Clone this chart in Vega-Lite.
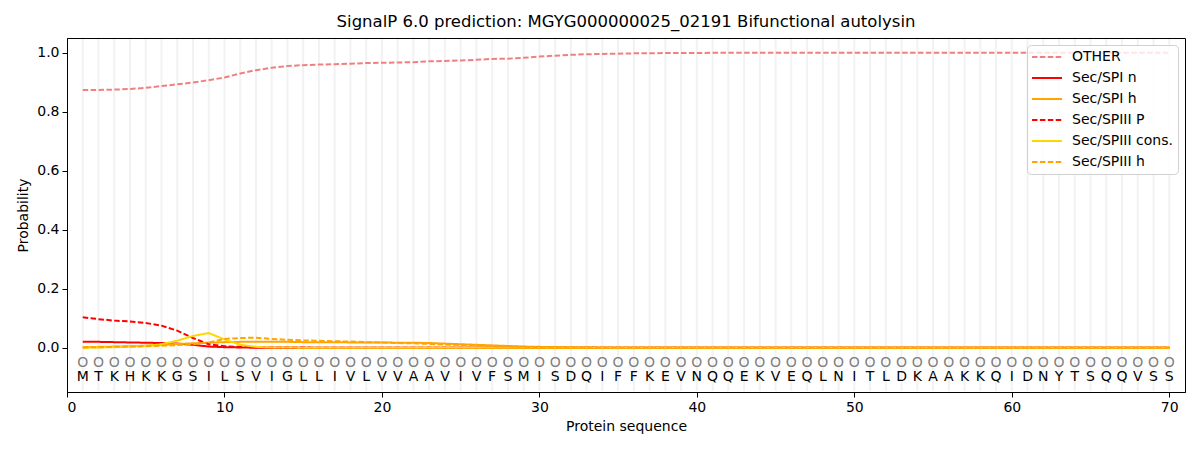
{
  "$schema": "https://vega.github.io/schema/vega-lite/v6.json",
  "autosize": {"type": "none"},
  "width": 1118,
  "height": 354,
  "padding": {"left": 67, "top": 38, "right": 15, "bottom": 58},
  "title": {"text": "SignalP 6.0 prediction: MGYG000000025_02191 Bifunctional autolysin", "fontSize": 16.5, "fontWeight": "normal", "font": "DejaVu Sans", "offset": 7, "color": "#000"},
  "data": {
    "values": [
      {"pos": 1, "aa": "M", "lab": "O", "other": 0.874, "spi_n": 0.020, "spi_h": 0.002, "spiii_p": 0.103, "spiii_cons": 0.000, "spiii_h": 0.001},
      {"pos": 2, "aa": "T", "lab": "O", "other": 0.874, "spi_n": 0.020, "spi_h": 0.003, "spiii_p": 0.097, "spiii_cons": 0.001, "spiii_h": 0.002},
      {"pos": 3, "aa": "K", "lab": "O", "other": 0.875, "spi_n": 0.019, "spi_h": 0.004, "spiii_p": 0.092, "spiii_cons": 0.002, "spiii_h": 0.003},
      {"pos": 4, "aa": "H", "lab": "O", "other": 0.877, "spi_n": 0.018, "spi_h": 0.005, "spiii_p": 0.089, "spiii_cons": 0.004, "spiii_h": 0.004},
      {"pos": 5, "aa": "K", "lab": "O", "other": 0.881, "spi_n": 0.017, "spi_h": 0.007, "spiii_p": 0.084, "spiii_cons": 0.006, "spiii_h": 0.005},
      {"pos": 6, "aa": "K", "lab": "O", "other": 0.887, "spi_n": 0.016, "spi_h": 0.010, "spiii_p": 0.075, "spiii_cons": 0.012, "spiii_h": 0.007},
      {"pos": 7, "aa": "G", "lab": "O", "other": 0.893, "spi_n": 0.014, "spi_h": 0.013, "spiii_p": 0.058, "spiii_cons": 0.024, "spiii_h": 0.009},
      {"pos": 8, "aa": "S", "lab": "O", "other": 0.899, "spi_n": 0.010, "spi_h": 0.015, "spiii_p": 0.033, "spiii_cons": 0.040, "spiii_h": 0.012},
      {"pos": 9, "aa": "I", "lab": "O", "other": 0.907, "spi_n": 0.004, "spi_h": 0.017, "spiii_p": 0.012, "spiii_cons": 0.050, "spiii_h": 0.018},
      {"pos": 10, "aa": "L", "lab": "O", "other": 0.916, "spi_n": 0.002, "spi_h": 0.019, "spiii_p": 0.005, "spiii_cons": 0.028, "spiii_h": 0.030},
      {"pos": 11, "aa": "S", "lab": "O", "other": 0.930, "spi_n": 0.001, "spi_h": 0.020, "spiii_p": 0.003, "spiii_cons": 0.010, "spiii_h": 0.033},
      {"pos": 12, "aa": "V", "lab": "O", "other": 0.941, "spi_n": 0.000, "spi_h": 0.020, "spiii_p": 0.002, "spiii_cons": 0.003, "spiii_h": 0.034},
      {"pos": 13, "aa": "I", "lab": "O", "other": 0.949, "spi_n": 0.000, "spi_h": 0.020, "spiii_p": 0.001, "spiii_cons": 0.001, "spiii_h": 0.030},
      {"pos": 14, "aa": "G", "lab": "O", "other": 0.955, "spi_n": 0.000, "spi_h": 0.020, "spiii_p": 0.001, "spiii_cons": 0.001, "spiii_h": 0.027},
      {"pos": 15, "aa": "L", "lab": "O", "other": 0.958, "spi_n": 0.000, "spi_h": 0.019, "spiii_p": 0.001, "spiii_cons": 0.000, "spiii_h": 0.025},
      {"pos": 16, "aa": "L", "lab": "O", "other": 0.960, "spi_n": 0.000, "spi_h": 0.019, "spiii_p": 0.000, "spiii_cons": 0.000, "spiii_h": 0.024},
      {"pos": 17, "aa": "I", "lab": "O", "other": 0.961, "spi_n": 0.000, "spi_h": 0.019, "spiii_p": 0.000, "spiii_cons": 0.000, "spiii_h": 0.022},
      {"pos": 18, "aa": "V", "lab": "O", "other": 0.963, "spi_n": 0.000, "spi_h": 0.018, "spiii_p": 0.000, "spiii_cons": 0.000, "spiii_h": 0.021},
      {"pos": 19, "aa": "L", "lab": "O", "other": 0.965, "spi_n": 0.000, "spi_h": 0.018, "spiii_p": 0.000, "spiii_cons": 0.000, "spiii_h": 0.019},
      {"pos": 20, "aa": "V", "lab": "O", "other": 0.966, "spi_n": 0.000, "spi_h": 0.018, "spiii_p": 0.000, "spiii_cons": 0.000, "spiii_h": 0.018},
      {"pos": 21, "aa": "V", "lab": "O", "other": 0.967, "spi_n": 0.000, "spi_h": 0.017, "spiii_p": 0.000, "spiii_cons": 0.000, "spiii_h": 0.016},
      {"pos": 22, "aa": "A", "lab": "O", "other": 0.968, "spi_n": 0.000, "spi_h": 0.017, "spiii_p": 0.000, "spiii_cons": 0.000, "spiii_h": 0.015},
      {"pos": 23, "aa": "A", "lab": "O", "other": 0.971, "spi_n": 0.000, "spi_h": 0.016, "spiii_p": 0.000, "spiii_cons": 0.000, "spiii_h": 0.013},
      {"pos": 24, "aa": "V", "lab": "O", "other": 0.972, "spi_n": 0.000, "spi_h": 0.014, "spiii_p": 0.000, "spiii_cons": 0.000, "spiii_h": 0.011},
      {"pos": 25, "aa": "I", "lab": "O", "other": 0.974, "spi_n": 0.000, "spi_h": 0.012, "spiii_p": 0.000, "spiii_cons": 0.000, "spiii_h": 0.009},
      {"pos": 26, "aa": "V", "lab": "O", "other": 0.976, "spi_n": 0.000, "spi_h": 0.010, "spiii_p": 0.000, "spiii_cons": 0.000, "spiii_h": 0.007},
      {"pos": 27, "aa": "F", "lab": "O", "other": 0.979, "spi_n": 0.000, "spi_h": 0.008, "spiii_p": 0.000, "spiii_cons": 0.000, "spiii_h": 0.005},
      {"pos": 28, "aa": "S", "lab": "O", "other": 0.980, "spi_n": 0.000, "spi_h": 0.006, "spiii_p": 0.000, "spiii_cons": 0.000, "spiii_h": 0.004},
      {"pos": 29, "aa": "M", "lab": "O", "other": 0.983, "spi_n": 0.000, "spi_h": 0.004, "spiii_p": 0.000, "spiii_cons": 0.000, "spiii_h": 0.003},
      {"pos": 30, "aa": "I", "lab": "O", "other": 0.987, "spi_n": 0.000, "spi_h": 0.003, "spiii_p": 0.000, "spiii_cons": 0.000, "spiii_h": 0.002},
      {"pos": 31, "aa": "S", "lab": "O", "other": 0.990, "spi_n": 0.000, "spi_h": 0.002, "spiii_p": 0.000, "spiii_cons": 0.000, "spiii_h": 0.001},
      {"pos": 32, "aa": "D", "lab": "O", "other": 0.993, "spi_n": 0.000, "spi_h": 0.001, "spiii_p": 0.000, "spiii_cons": 0.000, "spiii_h": 0.001},
      {"pos": 33, "aa": "Q", "lab": "O", "other": 0.995, "spi_n": 0.000, "spi_h": 0.001, "spiii_p": 0.000, "spiii_cons": 0.000, "spiii_h": 0.000},
      {"pos": 34, "aa": "I", "lab": "O", "other": 0.996, "spi_n": 0.000, "spi_h": 0.000, "spiii_p": 0.000, "spiii_cons": 0.000, "spiii_h": 0.000},
      {"pos": 35, "aa": "F", "lab": "O", "other": 0.997, "spi_n": 0.000, "spi_h": 0.000, "spiii_p": 0.000, "spiii_cons": 0.000, "spiii_h": 0.000},
      {"pos": 36, "aa": "F", "lab": "O", "other": 0.998, "spi_n": 0.000, "spi_h": 0.000, "spiii_p": 0.000, "spiii_cons": 0.000, "spiii_h": 0.000},
      {"pos": 37, "aa": "K", "lab": "O", "other": 0.998, "spi_n": 0.000, "spi_h": 0.000, "spiii_p": 0.000, "spiii_cons": 0.000, "spiii_h": 0.000},
      {"pos": 38, "aa": "E", "lab": "O", "other": 0.999, "spi_n": 0.000, "spi_h": 0.000, "spiii_p": 0.000, "spiii_cons": 0.000, "spiii_h": 0.000},
      {"pos": 39, "aa": "V", "lab": "O", "other": 0.999, "spi_n": 0.000, "spi_h": 0.000, "spiii_p": 0.000, "spiii_cons": 0.000, "spiii_h": 0.000},
      {"pos": 40, "aa": "N", "lab": "O", "other": 0.999, "spi_n": 0.000, "spi_h": 0.000, "spiii_p": 0.000, "spiii_cons": 0.000, "spiii_h": 0.000},
      {"pos": 41, "aa": "Q", "lab": "O", "other": 1.0, "spi_n": 0.000, "spi_h": 0.000, "spiii_p": 0.000, "spiii_cons": 0.000, "spiii_h": 0.000},
      {"pos": 42, "aa": "Q", "lab": "O", "other": 1.0, "spi_n": 0.000, "spi_h": 0.000, "spiii_p": 0.000, "spiii_cons": 0.000, "spiii_h": 0.000},
      {"pos": 43, "aa": "E", "lab": "O", "other": 1.0, "spi_n": 0.000, "spi_h": 0.000, "spiii_p": 0.000, "spiii_cons": 0.000, "spiii_h": 0.000},
      {"pos": 44, "aa": "K", "lab": "O", "other": 1.0, "spi_n": 0.000, "spi_h": 0.000, "spiii_p": 0.000, "spiii_cons": 0.000, "spiii_h": 0.000},
      {"pos": 45, "aa": "V", "lab": "O", "other": 1.0, "spi_n": 0.000, "spi_h": 0.000, "spiii_p": 0.000, "spiii_cons": 0.000, "spiii_h": 0.000},
      {"pos": 46, "aa": "E", "lab": "O", "other": 1.0, "spi_n": 0.000, "spi_h": 0.000, "spiii_p": 0.000, "spiii_cons": 0.000, "spiii_h": 0.000},
      {"pos": 47, "aa": "Q", "lab": "O", "other": 1.0, "spi_n": 0.000, "spi_h": 0.000, "spiii_p": 0.000, "spiii_cons": 0.000, "spiii_h": 0.000},
      {"pos": 48, "aa": "L", "lab": "O", "other": 1.0, "spi_n": 0.000, "spi_h": 0.000, "spiii_p": 0.000, "spiii_cons": 0.000, "spiii_h": 0.000},
      {"pos": 49, "aa": "N", "lab": "O", "other": 1.0, "spi_n": 0.000, "spi_h": 0.000, "spiii_p": 0.000, "spiii_cons": 0.000, "spiii_h": 0.000},
      {"pos": 50, "aa": "I", "lab": "O", "other": 1.0, "spi_n": 0.000, "spi_h": 0.000, "spiii_p": 0.000, "spiii_cons": 0.000, "spiii_h": 0.000},
      {"pos": 51, "aa": "T", "lab": "O", "other": 1.0, "spi_n": 0.000, "spi_h": 0.000, "spiii_p": 0.000, "spiii_cons": 0.000, "spiii_h": 0.000},
      {"pos": 52, "aa": "L", "lab": "O", "other": 1.0, "spi_n": 0.000, "spi_h": 0.000, "spiii_p": 0.000, "spiii_cons": 0.000, "spiii_h": 0.000},
      {"pos": 53, "aa": "D", "lab": "O", "other": 1.0, "spi_n": 0.000, "spi_h": 0.000, "spiii_p": 0.000, "spiii_cons": 0.000, "spiii_h": 0.000},
      {"pos": 54, "aa": "K", "lab": "O", "other": 1.0, "spi_n": 0.000, "spi_h": 0.000, "spiii_p": 0.000, "spiii_cons": 0.000, "spiii_h": 0.000},
      {"pos": 55, "aa": "A", "lab": "O", "other": 1.0, "spi_n": 0.000, "spi_h": 0.000, "spiii_p": 0.000, "spiii_cons": 0.000, "spiii_h": 0.000},
      {"pos": 56, "aa": "A", "lab": "O", "other": 1.0, "spi_n": 0.000, "spi_h": 0.000, "spiii_p": 0.000, "spiii_cons": 0.000, "spiii_h": 0.000},
      {"pos": 57, "aa": "K", "lab": "O", "other": 1.0, "spi_n": 0.000, "spi_h": 0.000, "spiii_p": 0.000, "spiii_cons": 0.000, "spiii_h": 0.000},
      {"pos": 58, "aa": "K", "lab": "O", "other": 1.0, "spi_n": 0.000, "spi_h": 0.000, "spiii_p": 0.000, "spiii_cons": 0.000, "spiii_h": 0.000},
      {"pos": 59, "aa": "Q", "lab": "O", "other": 1.0, "spi_n": 0.000, "spi_h": 0.000, "spiii_p": 0.000, "spiii_cons": 0.000, "spiii_h": 0.000},
      {"pos": 60, "aa": "I", "lab": "O", "other": 1.0, "spi_n": 0.000, "spi_h": 0.000, "spiii_p": 0.000, "spiii_cons": 0.000, "spiii_h": 0.000},
      {"pos": 61, "aa": "D", "lab": "O", "other": 1.0, "spi_n": 0.000, "spi_h": 0.000, "spiii_p": 0.000, "spiii_cons": 0.000, "spiii_h": 0.000},
      {"pos": 62, "aa": "N", "lab": "O", "other": 1.0, "spi_n": 0.000, "spi_h": 0.000, "spiii_p": 0.000, "spiii_cons": 0.000, "spiii_h": 0.000},
      {"pos": 63, "aa": "Y", "lab": "O", "other": 1.0, "spi_n": 0.000, "spi_h": 0.000, "spiii_p": 0.000, "spiii_cons": 0.000, "spiii_h": 0.000},
      {"pos": 64, "aa": "T", "lab": "O", "other": 1.0, "spi_n": 0.000, "spi_h": 0.000, "spiii_p": 0.000, "spiii_cons": 0.000, "spiii_h": 0.000},
      {"pos": 65, "aa": "S", "lab": "O", "other": 1.0, "spi_n": 0.000, "spi_h": 0.000, "spiii_p": 0.000, "spiii_cons": 0.000, "spiii_h": 0.000},
      {"pos": 66, "aa": "Q", "lab": "O", "other": 1.0, "spi_n": 0.000, "spi_h": 0.000, "spiii_p": 0.000, "spiii_cons": 0.000, "spiii_h": 0.000},
      {"pos": 67, "aa": "Q", "lab": "O", "other": 1.0, "spi_n": 0.000, "spi_h": 0.000, "spiii_p": 0.000, "spiii_cons": 0.000, "spiii_h": 0.000},
      {"pos": 68, "aa": "V", "lab": "O", "other": 1.0, "spi_n": 0.000, "spi_h": 0.000, "spiii_p": 0.000, "spiii_cons": 0.000, "spiii_h": 0.000},
      {"pos": 69, "aa": "S", "lab": "O", "other": 1.0, "spi_n": 0.000, "spi_h": 0.000, "spiii_p": 0.000, "spiii_cons": 0.000, "spiii_h": 0.000},
      {"pos": 70, "aa": "S", "lab": "O", "other": 1.0, "spi_n": 0.000, "spi_h": 0.000, "spiii_p": 0.000, "spiii_cons": 0.000, "spiii_h": 0.000}
    ]
  },
  "encoding": {
    "x": {
      "field": "pos", "type": "quantitative",
      "scale": {"domain": [0, 71], "nice": false, "zero": false},
      "axis": {"title": "Protein sequence", "values": [0, 10, 20, 30, 40, 50, 60, 70], "grid": false}
    }
  },
  "layer": [
    {
      "mark": {"type": "rule", "color": "#f2f2f2", "strokeWidth": 2},
      "encoding": {
        "y": {"datum": -0.147, "type": "quantitative"},
        "y2": {"datum": 1.047}
      }
    },
    {
      "transform": [
        {"fold": ["other", "spi_n", "spi_h", "spiii_p", "spiii_cons", "spiii_h"], "as": ["key", "prob"]}
      ],
      "mark": {"type": "line", "strokeWidth": 2, "clip": true},
      "encoding": {
        "y": {
          "field": "prob", "type": "quantitative",
          "scale": {"domain": [-0.15, 1.05], "nice": false, "zero": false},
          "axis": {"title": "Probability", "values": [0, 0.2, 0.4, 0.6, 0.8, 1.0], "format": ".1f", "grid": false}
        },
        "color": {
          "field": "key", "type": "nominal",
          "scale": {
            "domain": ["other", "spi_n", "spi_h", "spiii_p", "spiii_cons", "spiii_h"],
            "range": ["#f08080", "#ff0000", "#ffa500", "#ff0000", "#ffd700", "#ffa500"]
          },
          "legend": {
            "title": null,
            "labelExpr": "datum.label == 'other' ? 'OTHER' : datum.label == 'spi_n' ? 'Sec/SPI n' : datum.label == 'spi_h' ? 'Sec/SPI h' : datum.label == 'spiii_p' ? 'Sec/SPIII P' : datum.label == 'spiii_cons' ? 'Sec/SPIII cons.' : 'Sec/SPIII h'"
          }
        },
        "strokeDash": {
          "field": "key", "type": "nominal",
          "scale": {
            "domain": ["other", "spi_n", "spi_h", "spiii_p", "spiii_cons", "spiii_h"],
            "range": [[5.5, 2.4], [1, 0], [1, 0], [5.5, 2.4], [1, 0], [5.5, 2.4]]
          },
          "legend": {
            "title": null,
            "labelExpr": "datum.label == 'other' ? 'OTHER' : datum.label == 'spi_n' ? 'Sec/SPI n' : datum.label == 'spi_h' ? 'Sec/SPI h' : datum.label == 'spiii_p' ? 'Sec/SPIII P' : datum.label == 'spiii_cons' ? 'Sec/SPIII cons.' : 'Sec/SPIII h'"
          }
        }
      }
    },
    {
      "mark": {"type": "text", "color": "#808080", "fontSize": 14, "baseline": "middle", "align": "center"},
      "encoding": {
        "y": {"datum": -0.05, "type": "quantitative"},
        "text": {"field": "lab"}
      }
    },
    {
      "mark": {"type": "text", "color": "#000000", "fontSize": 14, "baseline": "middle", "align": "center"},
      "encoding": {
        "y": {"datum": -0.1, "type": "quantitative"},
        "text": {"field": "aa"}
      }
    }
  ],
  "config": {
    "font": "DejaVu Sans",
    "view": {"stroke": "#000000", "strokeWidth": 1},
    "axis": {
      "domainColor": "#000000",
      "tickColor": "#000000",
      "tickSize": 5,
      "labelColor": "#000000",
      "labelFontSize": 14,
      "labelPadding": 3,
      "titleFontSize": 14,
      "titleFontWeight": "normal",
      "titleColor": "#000000",
      "labelFont": "DejaVu Sans",
      "titleFont": "DejaVu Sans"
    },
    "axisY": {"titlePadding": 6},
    "axisX": {"titlePadding": 5},
    "legend": {
      "orient": "top-right",
      "offset": 7,
      "padding": 5,
      "fillColor": "rgba(255,255,255,0.8)",
      "strokeColor": "#d0d0d0",
      "cornerRadius": 4,
      "symbolType": "stroke",
      "symbolSize": 900,
      "symbolOffset": -1,
      "symbolStrokeWidth": 2,
      "clipHeight": 14,
      "labelFontSize": 14,
      "labelFont": "DejaVu Sans",
      "labelColor": "#000000",
      "rowPadding": 7,
      "labelOffset": 9
    }
  }
}
